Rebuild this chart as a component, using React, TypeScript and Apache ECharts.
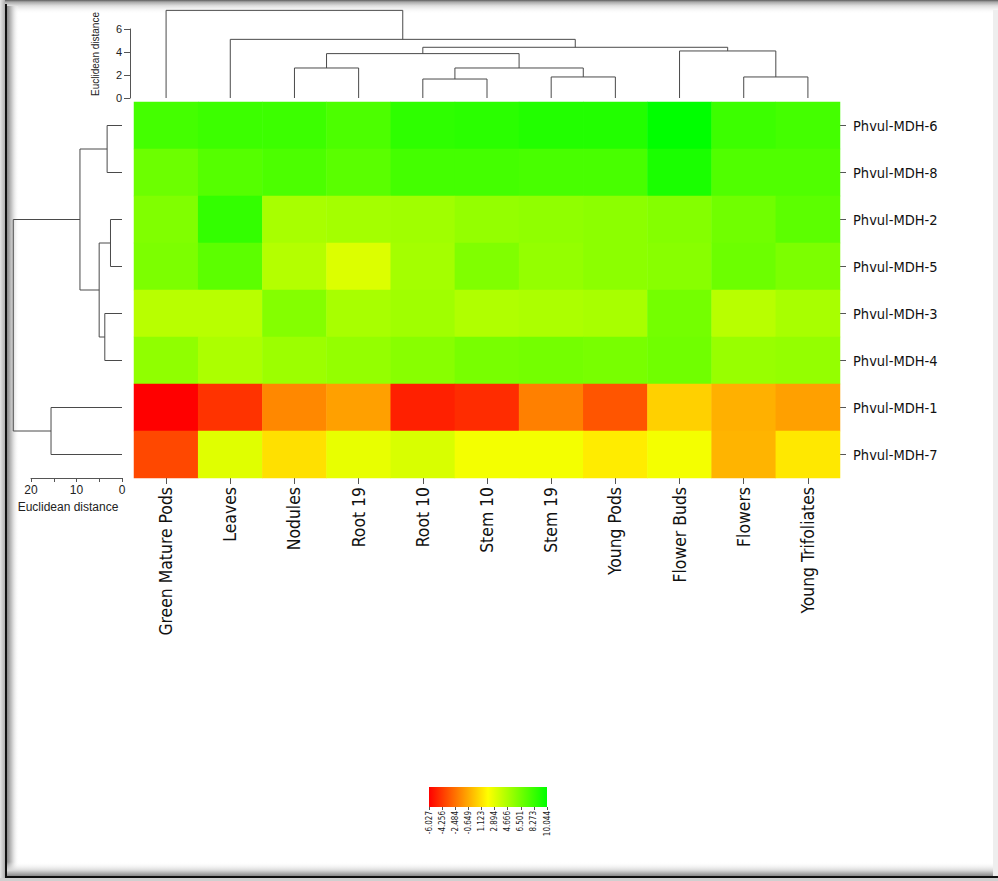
import React, { useEffect, useRef } from 'react';
import * as echarts from 'echarts';

const tissues = ['Green Mature Pods', 'Leaves', 'Nodules', 'Root 19', 'Root 10', 'Stem 10', 'Stem 19', 'Young Pods', 'Flower Buds', 'Flowers', 'Young Trifoliates'];
const genes = ['Phvul-MDH-6', 'Phvul-MDH-8', 'Phvul-MDH-2', 'Phvul-MDH-5', 'Phvul-MDH-3', 'Phvul-MDH-4', 'Phvul-MDH-1', 'Phvul-MDH-7'];

const mdh6 = [7.90, 8.15, 8.15, 7.65, 8.59, 8.72, 8.97, 8.97, 10.04, 8.15, 7.90];
const mdh8 = [6.64, 7.36, 7.65, 7.21, 7.90, 7.90, 7.77, 7.77, 9.22, 7.52, 7.52];
const mdh2 = [6.01, 8.44, 4.75, 4.88, 5.00, 5.38, 5.51, 5.63, 5.88, 6.51, 7.14];
const mdh5 = [6.14, 7.14, 4.37, 3.11, 4.88, 6.01, 5.38, 5.63, 5.76, 6.64, 6.14];
const mdh3 = [4.24, 4.24, 5.88, 4.75, 5.00, 4.50, 4.62, 4.75, 6.39, 4.24, 4.75];
const mdh4 = [5.51, 4.62, 5.13, 5.38, 5.76, 6.26, 6.39, 6.26, 6.51, 5.25, 5.38];
const mdh1 = [-6.03, -4.42, -1.74, -0.99, -5.02, -4.64, -1.99, -3.35, 0.53, -0.48, -0.99];
const mdh7 = [-3.76, 2.99, 1.03, 2.73, 3.24, 2.35, 2.35, 1.41, 2.35, -0.35, 1.28];
const expression = [mdh6, mdh8, mdh2, mdh5, mdh3, mdh4, mdh1, mdh7];

const scaleMin = -6.027;
const scaleMax = 10.044;
const legendTicks = ['-6.027', '-4.256', '-2.484', '-0.649', '1.123', '2.894', '4.666', '6.501', '8.273', '10.044'];
const distanceTitle = 'Euclidean distance';

// Merge tables (R hclust style): negative = leaf index (1-based), positive = earlier merge; third = height
const tissueMerges: [number, number, number][] = [
  [-5, -6, 1.65],
  [-7, -8, 1.83],
  [-10, -11, 1.83],
  [-3, -4, 2.61],
  [1, 2, 2.61],
  [4, 5, 3.86],
  [-9, 3, 4.09],
  [6, 7, 4.41],
  [-2, 8, 5.10],
  [-1, 9, 7.62],
];
const geneMerges: [number, number, number][] = [
  [-3, -4, 2.53],
  [-1, -2, 3.27],
  [-5, -6, 3.78],
  [1, 3, 5.02],
  [2, 4, 9.24],
  [-7, -8, 15.6],
  [5, 6, 23.9],
];

// each link: [pos1, height1, pos2, height2, mergeHeight]
function dendroLinks(merges: [number, number, number][]) {
  const pos: number[] = [];
  const hts: number[] = [];
  const links: number[][] = [];
  const info = (id: number) => (id < 0 ? { p: -id - 1 + 0.5, h: 0 } : { p: pos[id - 1], h: hts[id - 1] });
  merges.forEach(([a, b, h]) => {
    const A = info(a);
    const B = info(b);
    links.push([A.p, A.h, B.p, B.h, h]);
    pos.push((A.p + B.p) / 2);
    hts.push(h);
  });
  return links;
}

const NARROW = "'Liberation Sans Narrow', 'DejaVu Sans Condensed', 'Liberation Sans', sans-serif";
const SANS = "'Liberation Sans', Arial, sans-serif";
const LINK_COLOR = '#4a4a4a';

export default function App() {
  const ref = useRef<HTMLDivElement>(null);
  useEffect(() => {
    if (!ref.current) return;
    const chart = echarts.init(ref.current, undefined, { renderer: 'svg' });
    const heatData: [number, number, number][] = [];
    expression.forEach((row, r) => row.forEach((v, c) => heatData.push([c, r, v])));

    // top dendrogram: x = leaf position, y = distance
    const renderTop = (_p: any, api: any) => {
      const p1 = api.value(0), h1 = api.value(1), p2 = api.value(2), h2 = api.value(3), h = api.value(4);
      const pts = [api.coord([p1, h1]), api.coord([p1, h]), api.coord([p2, h]), api.coord([p2, h2])];
      return { type: 'polyline', shape: { points: pts }, style: { stroke: LINK_COLOR, lineWidth: 1, fill: 'none' } };
    };
    // left dendrogram: x = -distance, y = leaf position
    const renderLeft = (_p: any, api: any) => {
      const p1 = api.value(0), h1 = api.value(1), p2 = api.value(2), h2 = api.value(3), h = api.value(4);
      const pts = [api.coord([-h1, p1]), api.coord([-h, p1]), api.coord([-h, p2]), api.coord([-h2, p2])];
      return { type: 'polyline', shape: { points: pts }, style: { stroke: LINK_COLOR, lineWidth: 1, fill: 'none' } };
    };

    const LG = echarts.graphic.LinearGradient;
    chart.setOption({
      animation: false,
      backgroundColor: '#ffffff',
      grid: [
        { left: 134, top: 102, width: 706, height: 376 },
        { left: 134, top: 29, width: 706, height: 69 },
        { left: 31, top: 102, width: 91, height: 376 },
        { left: 429, top: 787, width: 118, height: 20 },
      ],
      xAxis: [
        {
          type: 'category', gridIndex: 0, data: tissues, position: 'bottom',
          axisLine: { show: false },
          axisTick: { show: true, alignWithLabel: true, length: 6, lineStyle: { color: '#555' } },
          axisLabel: { rotate: 90, fontSize: 17.4, fontFamily: NARROW, color: '#111', margin: 9 },
          splitLine: { show: false },
        },
        { type: 'value', gridIndex: 1, min: 0, max: 11, show: false },
        {
          type: 'value', gridIndex: 2, min: -20, max: 0, interval: 5, position: 'bottom',
          axisLine: { show: true, onZero: false, lineStyle: { color: '#555' } },
          axisTick: { show: true, length: 4, lineStyle: { color: '#555' } },
          axisLabel: { fontSize: 12, fontFamily: SANS, color: '#222', margin: 6, formatter: (v: number) => (Math.abs(v) % 10 === 0 ? String(Math.abs(v)) : '') },
          splitLine: { show: false },
        },
        {
          type: 'category', gridIndex: 3, data: legendTicks, boundaryGap: false, position: 'bottom',
          axisLine: { show: false },
          axisTick: { show: true, length: 3, lineStyle: { color: '#555' } },
          axisLabel: { rotate: 90, fontSize: 8, fontFamily: NARROW, color: '#222', margin: 4, interval: 0 },
          splitLine: { show: false },
        },
      ],
      yAxis: [
        {
          type: 'category', gridIndex: 0, data: genes, inverse: true, position: 'right',
          axisLine: { show: false },
          axisTick: { show: true, alignWithLabel: true, length: 6, lineStyle: { color: '#555' } },
          axisLabel: { fontSize: 14.5, fontFamily: NARROW, color: '#111', margin: 13 },
          splitLine: { show: false },
        },
        {
          type: 'value', gridIndex: 1, min: 0, max: 6, interval: 2, position: 'left', offset: 4,
          axisLine: { show: true, onZero: false, lineStyle: { color: '#555' } },
          axisTick: { show: true, length: 6, lineStyle: { color: '#555' } },
          axisLabel: { fontSize: 11, fontFamily: SANS, color: '#222', margin: 8 },
          splitLine: { show: false },
        },
        { type: 'value', gridIndex: 2, min: 0, max: 8, inverse: true, show: false },
        { type: 'value', gridIndex: 3, min: 0, max: 1, show: false },
      ],
      visualMap: {
        show: false, type: 'continuous', seriesIndex: 0, min: scaleMin, max: scaleMax,
        inRange: { color: ['#ff0000', '#ffff00', '#00ff00'] },
      },
      series: [
        {
          type: 'heatmap', xAxisIndex: 0, yAxisIndex: 0, data: heatData,
          itemStyle: { borderWidth: 0 }, silent: true,
        },
        {
          type: 'custom', xAxisIndex: 1, yAxisIndex: 1, clip: false, silent: true,
          renderItem: renderTop, data: dendroLinks(tissueMerges),
        },
        {
          type: 'custom', xAxisIndex: 2, yAxisIndex: 2, clip: false, silent: true,
          renderItem: renderLeft, data: dendroLinks(geneMerges),
        },
      ],
      graphic: [
        { type: 'rect', silent: true, z: -10, shape: { x: 429, y: 787, width: 118, height: 20 },
          style: { fill: new LG(0, 0, 1, 0, [{ offset: 0, color: '#ff0000' }, { offset: 0.5, color: '#ffff00' }, { offset: 1, color: '#00ff00' }]) } },
        { type: 'text', silent: true, x: 95, y: 54, rotation: Math.PI / 2,
          style: { text: distanceTitle, fontSize: 10, fontFamily: SANS, fill: '#222', align: 'center', verticalAlign: 'middle' } },
        { type: 'text', silent: true, x: 68, y: 507,
          style: { text: distanceTitle, fontSize: 12, fontFamily: SANS, fill: '#222', align: 'center', verticalAlign: 'middle' } },
        // frame
        { type: 'rect', silent: true, z: -10, shape: { x: 0, y: 0, width: 998, height: 14 },
          style: { fill: new LG(0, 0, 0, 1, [{ offset: 0, color: '#5c5c5c' }, { offset: 0.14, color: '#a8a8a8' }, { offset: 0.4, color: '#dcdcdc' }, { offset: 1, color: 'rgba(255,255,255,0)' }]) } },
        { type: 'rect', silent: true, z: -10, shape: { x: 0, y: 0, width: 5, height: 881 },
          style: { fill: new LG(0, 0, 1, 0, [{ offset: 0, color: '#e6e6e6' }, { offset: 1, color: '#b0b0b0' }]) } },
        { type: 'rect', silent: true, z: -10, shape: { x: 5, y: 4, width: 2, height: 875 }, style: { fill: '#111111' } },
        { type: 'rect', silent: true, z: -10, shape: { x: 7, y: 6, width: 12, height: 870 },
          style: { fill: new LG(0, 0, 1, 0, [{ offset: 0, color: '#8a8a8a' }, { offset: 0.4, color: '#c8c8c8' }, { offset: 1, color: 'rgba(255,255,255,0)' }]) } },
        { type: 'rect', silent: true, z: -10, shape: { x: 7, y: 862, width: 991, height: 14 },
          style: { fill: new LG(0, 0, 0, 1, [{ offset: 0, color: 'rgba(255,255,255,0)' }, { offset: 0.6, color: '#d8d8d8' }, { offset: 1, color: '#8a8a8a' }]) } },
        { type: 'rect', silent: true, z: -10, shape: { x: 5, y: 876, width: 993, height: 2 }, style: { fill: '#111111' } },
        { type: 'rect', silent: true, z: -10, shape: { x: 0, y: 878, width: 998, height: 3 }, style: { fill: '#d0d0d0' } },
        { type: 'rect', silent: true, z: -10, shape: { x: 993, y: 10, width: 5, height: 866 }, style: { fill: '#eeeeee' } },
      ],
    });
    return () => chart.dispose();
  }, []);
  return <div ref={ref} style={{ position: 'fixed', left: 0, top: 0, width: 998, height: 881, background: '#fff' }} />;
}
